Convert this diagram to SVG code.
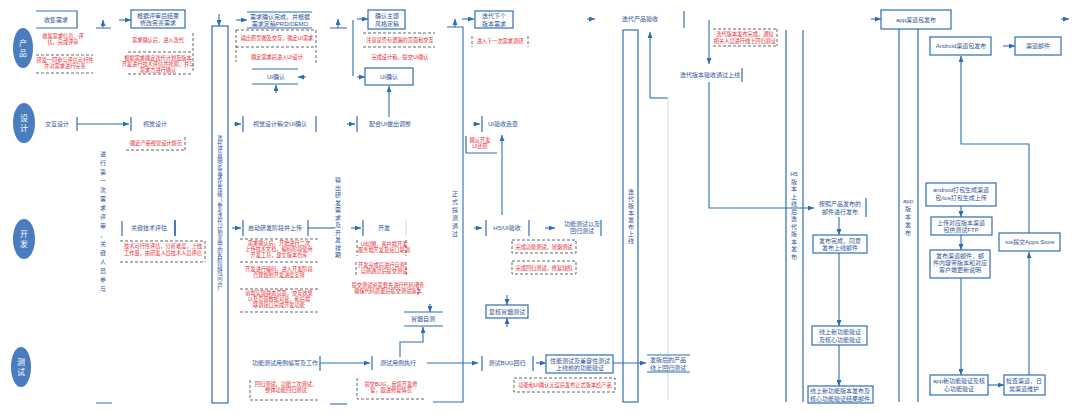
<svg xmlns="http://www.w3.org/2000/svg" width="1080" height="414" viewBox="0 0 1080 414">
<defs>
<marker id="a" markerWidth="6" markerHeight="5" refX="6" refY="2.5" orient="auto" markerUnits="userSpaceOnUse"><path d="M0,0 L6,2.5 L0,5 z" fill="#2e6db5"/></marker>
<style>
text{font-family:"Liberation Sans","Noto Sans CJK SC",sans-serif}
.t{font-size:6px;fill:#2f5597;text-anchor:middle}
.r{font-size:5.2px;fill:#e8262d;text-anchor:middle}
.v{font-size:6px;fill:#2f5597;text-anchor:middle}
.lane{font-size:8px;fill:#fff;text-anchor:middle}
.b{fill:none;stroke:#2e6db5;stroke-width:1.2}
.bx{fill:#fff;stroke:#2e6db5;stroke-width:1.2}
.d{fill:none;stroke:#555;stroke-width:0.9;stroke-dasharray:3,2}
.c{fill:none;stroke:#2e6db5;stroke-width:1.1}
.f{fill:none;stroke:#d3dbe6;stroke-width:1}
</style>
</defs>
<rect width="1080" height="414" fill="#fff"/>

<g id="lanes">
<g id="lane-product"><ellipse cx="23" cy="48" rx="10" ry="20" fill="#4a7cc0"/><text class="lane" x="23" y="46">产</text><text class="lane" x="23" y="56">品</text></g>
<g id="lane-design"><ellipse cx="24" cy="123" rx="11" ry="20" fill="#4a7cc0"/><text class="lane" x="24" y="121">设</text><text class="lane" x="24" y="131">计</text></g>
<g id="lane-dev"><ellipse cx="24" cy="239" rx="11" ry="20" fill="#4a7cc0"/><text class="lane" x="24" y="237">开</text><text class="lane" x="24" y="247">发</text></g>
<g id="lane-test"><ellipse cx="21" cy="367" rx="10" ry="20" fill="#4a7cc0"/><text class="lane" x="21" y="365">测</text><text class="lane" x="21" y="375">试</text></g>
</g>

<g id="connectors">
<path class="c" d="M103,28 V20" marker-end="url(#a)"/>
<path class="c" d="M96,28 H111 M96,403 H112"/>
<path class="c" d="M119,20 H131" marker-end="url(#a)"/>
<path class="c" d="M219,14 V26" marker-end="url(#a)"/>
<path class="c" d="M236,20 H247" marker-end="url(#a)"/>
<path class="c" d="M306,77 H298" marker-end="url(#a)"/>
<path class="c" d="M276,93 V85" marker-end="url(#a)"/>
<path class="c" d="M338,28 V19" marker-end="url(#a)"/>
<path class="c" d="M330,28 H347 M353,20 V76"/>
<path class="c" d="M357,19 H368" marker-end="url(#a)"/>
<path class="c" d="M357,77 H365" marker-end="url(#a)"/>
<path class="c" d="M389,117 V86" marker-end="url(#a)"/>
<path class="c" d="M77,124 H129" marker-end="url(#a)"/>
<path class="c" d="M234,124 H241" marker-end="url(#a)"/>
<path class="c" d="M347,124 H355" marker-end="url(#a)"/>
<path class="c" d="M473,124 H480" marker-end="url(#a)"/>
<path class="c" d="M502,215 V135" marker-end="url(#a)"/>
<path class="c" d="M232,228 H241" marker-end="url(#a)"/>
<path class="c" d="M308,228 H335"/>
<path class="c" d="M351,228 H361" marker-end="url(#a)"/>
<path class="c" d="M430,304 V312" marker-end="url(#a)"/>
<path class="c" d="M400,357 V342 H423 V327" marker-end="url(#a)"/>
<path class="c" d="M455,27 V19" marker-end="url(#a)"/>
<path class="c" d="M447,27 H463 V402 H433"/>
<path class="c" d="M474,228 H482" marker-end="url(#a)"/>
<path class="c" d="M545,228 H555" marker-end="url(#a)"/>
<path class="c" d="M507,295 V305" marker-end="url(#a)"/>
<path class="c" d="M507,327 V318" marker-end="url(#a)"/>
<path class="c" d="M320,363 H370" marker-end="url(#a)"/>
<path class="c" d="M427,363 H478" marker-end="url(#a)"/>
<path class="c" d="M536,363 H546" marker-end="url(#a)"/>
<path class="c" d="M613,363 H646" marker-end="url(#a)"/>
<path class="c" d="M330,404 H347"/>
<path class="c" d="M462,19 H474" marker-end="url(#a)"/>
<path class="c" d="M587,19 H595" marker-end="url(#a)"/>
<path class="c" d="M650,98 V32" marker-end="url(#a)"/>
<path class="c" d="M650,98 H668"/>
<path class="f" d="M668,98 V400"/>
<path class="c" d="M709,20 V64" marker-end="url(#a)"/>
<path class="c" d="M709,82 V208 H814" marker-end="url(#a)"/>
<path class="c" d="M839,217 V235" marker-end="url(#a)"/>
<path class="c" d="M839,253 V326" marker-end="url(#a)"/>
<path class="c" d="M839,345 V386" marker-end="url(#a)"/>
<path class="c" d="M871,19 H881" marker-end="url(#a)"/>
<path class="c" d="M1061,19 H1069" marker-end="url(#a)"/>
<path class="c" d="M1003,46 H1015" marker-end="url(#a)"/>
<path class="c" d="M1029,233 V144 H961 V56" marker-end="url(#a)"/>
<path class="c" d="M961,206 V217" marker-end="url(#a)"/>
<path class="c" d="M961,235 V250" marker-end="url(#a)"/>
<path class="c" d="M961,278 V375" marker-end="url(#a)"/>
<path class="c" d="M988,385 H1004" marker-end="url(#a)"/>
<path class="c" d="M1029,375 V252" marker-end="url(#a)"/>
</g>

<g id="n-collect"><path class="b" d="M36,11 H77 V28 H36"/><text class="t" x="56" y="22">收集需求</text>
<text class="r" x="63" y="38">收集需求信息，评</text><text class="r" x="63" y="44">估，完成评审</text>
<path class="d" d="M36,55 H93 M36,73 H93"/>
<text class="r" x="65" y="62">研发一同参与评估可行性</text><text class="r" x="65" y="68">并对需求进行完善</text></g>

<g id="n-revise"><rect class="bx" x="131" y="10" width="54" height="18"/><text class="t" x="158" y="17.5">根据评审后结果</text><text class="t" x="158" y="25">修改完善需求</text>
<path class="d" d="M193,33 V72 M128,52 H193 M128,74 H193"/>
<text class="r" x="158" y="42">需求确认后，进入迭代</text>
<text class="r" x="158" y="60">根据需求确定迭代计划及版本</text><text class="r" x="158" y="66">开发进行技术评估并排期，并与</text><text class="r" x="158" y="72">需求方进行确认</text></g>

<g id="n-review1"><text class="v" x="103" y="156"><tspan x="103">进</tspan><tspan x="103" dy="9">行</tspan><tspan x="103" dy="9">第</tspan><tspan x="103" dy="9">一</tspan><tspan x="103" dy="9">次</tspan><tspan x="103" dy="9">需</tspan><tspan x="103" dy="9">求</tspan><tspan x="103" dy="9">评</tspan><tspan x="103" dy="9">审</tspan><tspan x="103" dy="9">，</tspan><tspan x="103" dy="9">关</tspan><tspan x="103" dy="9">键</tspan><tspan x="103" dy="9">人</tspan><tspan x="103" dy="9">员</tspan><tspan x="103" dy="9">参</tspan><tspan x="103" dy="9">与</tspan></text></g>

<g id="n-iter-review"><rect class="b" x="212" y="26" width="16" height="377"/><text class="v" x="220" y="140" style="font-size:5.4px"><tspan x="220">迭</tspan><tspan x="220" dy="5.6">代</tspan><tspan x="220" dy="5.6">评</tspan><tspan x="220" dy="5.6">审</tspan><tspan x="220" dy="5.6">确</tspan><tspan x="220" dy="5.6">定</tspan><tspan x="220" dy="5.6">需</tspan><tspan x="220" dy="5.6">求</tspan><tspan x="220" dy="5.6">优</tspan><tspan x="220" dy="5.6">先</tspan><tspan x="220" dy="5.6">级</tspan><tspan x="220" dy="5.6">（</tspan><tspan x="220" dy="5.6">参</tspan><tspan x="220" dy="5.6">考</tspan><tspan x="220" dy="5.6">迭</tspan><tspan x="220" dy="5.6">代</tspan><tspan x="220" dy="5.6">计</tspan><tspan x="220" dy="5.6">划</tspan><tspan x="220" dy="5.6">表</tspan><tspan x="220" dy="5.6">中</tspan><tspan x="220" dy="5.6">的</tspan><tspan x="220" dy="5.6">各</tspan><tspan x="220" dy="5.6">阶</tspan><tspan x="220" dy="5.6">段</tspan><tspan x="220" dy="5.6">时</tspan><tspan x="220" dy="5.6">间</tspan><tspan x="220" dy="5.6">点</tspan><tspan x="220" dy="5.6">）</tspan></text></g>

<g id="n-prd"><path class="b" d="M247,12 H312 M247,28 H312"/><text class="t" x="280" y="18.5">需求确认完成，并根据</text><text class="t" x="280" y="25.5">需求定稿PRD/DEMO</text>
<path class="d" d="M236,30 H316 M236,47 H316 M316,30 V65 M236,30 V62"/>
<text class="r" x="277" y="40">输出原型图及交互，确定UI需求</text><text class="r" x="277" y="59">确定需求后进入UI设计</text></g>

<g id="n-ui-confirm1"><path class="b" d="M252,69 H298 M252,84 H298"/><text class="t" x="276" y="79">UI确认</text></g>

<g id="n-style"><rect class="bx" x="368" y="10" width="37" height="19"/><text class="t" x="387" y="17.5">确认主题</text><text class="t" x="387" y="25.5">风格定稿</text>
<path class="d" d="M363,33 H435 M363,47 H435"/>
<text class="r" x="400" y="42">注意是否有遗漏的页面和交互</text><text class="r" x="400" y="59">完成设计稿，提交UI确认</text></g>

<g id="n-ui-confirm2"><rect class="bx" x="365" y="68" width="48" height="17"/><text class="t" x="389" y="79">UI确认</text></g>

<g id="n-next"><rect class="bx" x="475" y="11" width="38" height="17"/><text class="t" x="494" y="18">迭代下个</text><text class="t" x="494" y="25.5">版本需求</text>
<path class="d" d="M472,36 V47 M528,36 V47"/><text class="r" x="500" y="43">进入下一次需求调研</text></g>

<g id="n-interact"><text class="t" x="57" y="126">交互设计</text><path class="b" d="M77,117 V131 M131,117 V131"/>
<text class="t" x="155" y="126">视觉设计</text>
<path class="d" d="M126,150 H186 M185,137 V150"/><text class="r" x="156" y="145">确定产品视觉设计规范</text></g>

<g id="n-visual-ui"><path class="b" d="M243,116 V132 M316,116 V132"/><text class="t" x="280" y="126">视觉设计稿交UI确认</text></g>
<g id="n-adjust"><path class="b" d="M357,116 V132"/><text class="t" x="390" y="126">配合UI做出调整</text></g>
<g id="n-ui-check"><path class="b" d="M482,116 V132"/><text class="t" x="503" y="126">UI验收走查</text>
<path class="b" d="M466,136 V153 H497"/><text class="r" x="480" y="142">确认开发</text><text class="r" x="480" y="148">UI还原</text></g>

<g id="n-tech"><path class="b" d="M122,221 V236"/><path d="M175,220 V236" stroke="#2e6db5" stroke-width="1.8"/><text class="t" x="149" y="230">关键技术评估</text>
<path class="d" d="M120,241 H205 M120,262 H205 M205,241 V262"/>
<text class="r" x="163" y="248">技术可行性评估，分析难度，上线</text><text class="r" x="163" y="255">工作量，由研发人员技术人员评估</text></g>

<g id="n-devstart"><path class="b" d="M243,220 V236 M308,220 V236"/><text class="t" x="275" y="230">启动研发阶段并上传</text>
<path class="d" d="M240,239 H320 M240,262 H320 M240,289 H320 M240,312 H320"/>
<text class="r" x="279" y="245">需求确认后，开始进行二次</text><text class="r" x="279" y="251">上传技术文档，编码阶段使用</text><text class="r" x="279" y="257">开发工具，建立版本仓库</text>
<text class="r" x="279" y="271">开发进行编码，进入开发阶段</text><text class="r" x="279" y="277">合理规划开发进度安排</text>
<text class="r" x="279" y="295">前端实现静态页面，交互效果</text><text class="r" x="279" y="301">以及页面数据对接，和后端</text><text class="r" x="279" y="307">联调接口完成开发功能</text></g>

<g id="n-output"><text class="v" x="338" y="182"><tspan x="338">输</tspan><tspan x="338" dy="7.5">出</tspan><tspan x="338" dy="7.5">研</tspan><tspan x="338" dy="7.5">发</tspan><tspan x="338" dy="7.5">需</tspan><tspan x="338" dy="7.5">求</tspan><tspan x="338" dy="7.5">及</tspan><tspan x="338" dy="7.5">开</tspan><tspan x="338" dy="7.5">发</tspan><tspan x="338" dy="7.5">排</tspan><tspan x="338" dy="7.5">期</tspan></text></g>

<g id="n-dev"><path class="b" d="M363,220 V236"/><path class="f" d="M406,220 V236"/><text class="t" x="384" y="230">开发</text>
<path class="d" d="M357,240 V256 M406,240 V256 M356,262 V277 M406,262 V277 M418,282 V297"/>
<text class="r" x="384" y="246">UI切图，客户端开发</text><text class="r" x="384" y="252">服务端开发及接口联调</text>
<text class="r" x="384" y="267">开发完成后进行自测，</text><text class="r" x="384" y="273">自测通过后提交测试</text>
<text class="r" x="388" y="287">提交测试前需要先进行代码审查</text><text class="r" x="388" y="293">确保代码质量后提交测试版本</text></g>

<g id="n-smoke1"><path class="b" d="M404,312 H443 M404,326 H443"/><text class="t" x="423" y="321">冒烟自测</text></g>

<g id="n-formal"><text class="v" x="455" y="196"><tspan x="455">正</tspan><tspan x="455" dy="8">式</tspan><tspan x="455" dy="8">提</tspan><tspan x="455" dy="8">测</tspan><tspan x="455" dy="8">通</tspan><tspan x="455" dy="8">过</tspan></text></g>

<g id="n-h5"><path class="b" d="M486,220 V236 M529,220 V236"/><text class="t" x="507" y="230">H5/UI验收</text></g>
<g id="n-func"><path class="b" d="M601,220 V236"/><text class="t" x="582" y="226">功能测试以及</text><text class="t" x="582" y="233">回归测试</text>
<rect class="d" x="512" y="240" width="64" height="13"/><text class="r" x="544" y="248.5">完成功能测试，冒烟测试</text>
<rect class="d" x="512" y="261" width="64" height="13"/><text class="r" x="544" y="269.5">完成回归测试，修复缺陷</text></g>

<g id="n-smoke2"><rect class="bx" x="486" y="305" width="42" height="13"/><text class="t" x="507" y="313.5">复核冒烟测试</text></g>

<g id="n-case"><text class="t" x="285" y="365">功能测试用例编写及工作</text><path class="b" d="M320,356 V371"/>
<path class="d" d="M250,380 V400 H318"/><text class="r" x="286" y="386">回归测试，功能二次测试，</text><text class="r" x="286" y="392">整体功能回归测试</text></g>

<g id="n-exec"><path class="b" d="M372,356 V370"/><text class="t" x="398" y="365">测试用例执行</text>
<path class="d" d="M357,378 V399 H425"/><text class="r" x="391" y="386">提交BUG，反馈开发修</text><text class="r" x="391" y="392">复，跟进修复情况</text></g>

<g id="n-bug"><path class="b" d="M482,356 V371 M533,356 V371"/><text class="t" x="507" y="365">测试BUG回归</text></g>

<g id="n-perf"><rect class="bx" x="546" y="355" width="67" height="18"/><text class="t" x="580" y="362.5">性能测试及兼容性测试</text><text class="t" x="580" y="370">上线前的功能验证</text>
<rect class="d" x="514" y="378" width="101" height="14"/><text class="r" x="565" y="387">功能和UI确认无误后发布正式版本给产品</text></g>

<g id="n-release"><rect class="b" x="623" y="30" width="15" height="372"/><text class="v" x="631" y="194"><tspan x="631">迭</tspan><tspan x="631" dy="7">代</tspan><tspan x="631" dy="7">版</tspan><tspan x="631" dy="7">本</tspan><tspan x="631" dy="7">发</tspan><tspan x="631" dy="7">布</tspan><tspan x="631" dy="7">上</tspan><tspan x="631" dy="7">线</tspan></text></g>

<g id="n-after"><path class="b" d="M647,355 H690 M647,372 H690"/><text class="t" x="668" y="362">发版后的产品</text><text class="t" x="668" y="369.5">线上回归测试</text></g>

<g id="n-accept"><text class="t" x="640" y="21">迭代产品验收</text><path class="b" d="M684,11 V28"/></g>

<g id="n-notify"><path class="d" d="M713,29 H777 M713,46 H777 M777,29 V46"/><text class="r" x="745" y="36">迭代版本发布完成，通知</text><text class="r" x="745" y="42.5">相关人员进行线上回归验证</text></g>

<g id="n-online"><text class="t" x="710" y="77">迭代版本验收通过上线</text><path class="b" d="M742,68 V82"/></g>

<g id="n-h5col"><path class="b" d="M786,30 V402 M803,30 V402"/><text class="v" x="794" y="176"><tspan x="794">H5</tspan><tspan x="794" dy="7.5">版</tspan><tspan x="794" dy="7.5">本</tspan><tspan x="794" dy="7.5">上</tspan><tspan x="794" dy="7.5">线</tspan><tspan x="794" dy="7.5">后</tspan><tspan x="794" dy="7.5">迭</tspan><tspan x="794" dy="7.5">代</tspan><tspan x="794" dy="7.5">版</tspan><tspan x="794" dy="7.5">本</tspan><tspan x="794" dy="7.5">发</tspan><tspan x="794" dy="7.5">布</tspan></text></g>

<g id="n-mail"><path class="b" d="M866,198 V217"/><text class="t" x="840" y="206">按照产品发布的</text><text class="t" x="840" y="213.5">邮件进行发布</text></g>
<g id="n-done"><rect class="bx" x="813" y="235" width="54" height="18"/><text class="t" x="840" y="242.5">发布完成，同意</text><text class="t" x="840" y="250">发布上线邮件</text></g>
<g id="n-verify"><rect class="bx" x="812" y="326" width="55" height="19"/><text class="t" x="840" y="334">线上新功能验证</text><text class="t" x="840" y="341.5">及核心功能验证</text></g>
<g id="n-result"><rect class="bx" x="808" y="386" width="65" height="17"/><text class="t" x="840" y="393">线上新功能版本发布及</text><text class="t" x="840" y="400.5">核心功能验证结果邮件</text></g>

<g id="n-app"><rect class="bx" x="881" y="10" width="70" height="19"/><text class="t" x="916" y="21.5">app渠道包发布</text></g>
<g id="n-appcol"><path class="b" d="M899,29 V402 M918,29 V402"/><text class="v" x="908" y="203"><tspan x="908">app</tspan><tspan x="908" dy="8">版</tspan><tspan x="908" dy="8">本</tspan><tspan x="908" dy="8">发</tspan><tspan x="908" dy="8">布</tspan></text></g>
<g id="n-android"><rect class="bx" x="930" y="37" width="61" height="18"/><text class="t" x="961" y="48">Android渠道包发布</text></g>
<g id="n-chmail"><rect class="bx" x="1015" y="37" width="46" height="18"/><text class="t" x="1038" y="48">渠道邮件</text></g>
<g id="n-pack"><rect class="bx" x="926" y="183" width="70" height="23"/><text class="t" x="961" y="192">android打包生成渠道</text><text class="t" x="961" y="200">包/ios打包生成上传</text></g>
<g id="n-upload"><rect class="bx" x="931" y="217" width="61" height="18"/><text class="t" x="961" y="224.5">上传对应版本渠道</text><text class="t" x="961" y="232">包供测试FTP</text></g>
<g id="n-chpub"><rect class="bx" x="930" y="250" width="60" height="28"/><text class="t" x="960" y="257.5">发布渠道邮件，邮</text><text class="t" x="960" y="264.5">件内容带版本和对应</text><text class="t" x="960" y="271.5">客户端更新说明</text></g>
<g id="n-appverify"><rect class="bx" x="930" y="375" width="58" height="20"/><text class="t" x="959" y="383">app新功能验证及核</text><text class="t" x="959" y="390.5">心功能验证</text></g>
<g id="n-check"><rect class="bx" x="1004" y="375" width="41" height="20"/><text class="t" x="1024" y="383">检查渠道，日</text><text class="t" x="1024" y="390.5">常渠道维护</text></g>
<g id="n-ios"><rect class="bx" x="999" y="233" width="61" height="18"/><text class="t" x="1030" y="244">ios提交Apps Store</text></g>
</svg>
